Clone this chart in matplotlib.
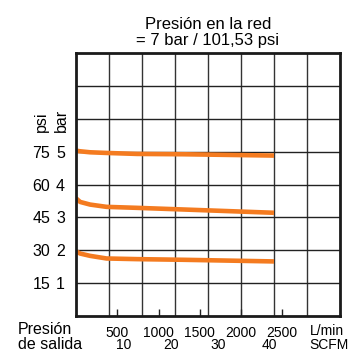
import numpy as np
import matplotlib
matplotlib.use("Agg")
import matplotlib.pyplot as plt
import matplotlib.transforms as mtransforms

plt.rcParams['font.family'] = ['Liberation Sans', 'DejaVu Sans']

# caudal (L/min) y presion de salida (bar)
flow = [0, 50, 170, 370, 740, 1300, 2400]
curve_5 = [5.03, 5.01, 4.98, 4.96, 4.93, 4.92, 4.88]
curve_3 = [3.58, 3.47, 3.39, 3.32, 3.29, 3.24, 3.14]
curve_2 = [1.97, 1.90, 1.83, 1.75, 1.73, 1.71, 1.66]

bar_ticks = [1, 2, 3, 4, 5]
psi_labels = ['15', '30', '45', '60', '75']
lmin_ticks = [500, 1000, 1500, 2000, 2500]
scfm_labels = ['10', '20', '30', '40']
scfm_pos = [580, 1150, 1720, 2340]   # donde van los textos SCFM (en L/min)

orange = '#F47B20'

fig = plt.figure(figsize=(3.58, 3.51), dpi=100)
ax = fig.add_axes([0.2123, 0.0997, 0.7374, 0.7493])

ax.set_xlim(0, 3200)
ax.set_ylim(0, 8)

# rejilla
for gx in np.linspace(0, 3200, 9)[1:-1]:
    ax.axvline(gx, color='#333333', lw=1.0, zorder=1)
for gy in range(1, 8):
    ax.axhline(gy, color='#222222', lw=1.0, zorder=1)

for c in [curve_5, curve_3, curve_2]:
    ax.plot(flow, c, color=orange, lw=3.3, solid_capstyle='butt', zorder=3)

for s in ax.spines.values():
    s.set_linewidth(2.0)
    s.set_color('#1a1a1a')
    s.set_zorder(5)

ax.set_xticks(lmin_ticks)
ax.set_xticklabels([str(v) for v in lmin_ticks], fontsize=10)
ax.tick_params(axis='x', direction='in', length=5, width=1, pad=7, color='#222222')
ax.set_yticks(bar_ticks)
ax.set_yticklabels([str(v) for v in bar_ticks], fontsize=11.5)
ax.tick_params(axis='y', length=0, pad=8)

ty = mtransforms.blended_transform_factory(ax.transAxes, ax.transData)
for b, p in zip(bar_ticks, psi_labels):
    ax.text(-0.098, b, p, transform=ty, ha='right', va='center_baseline', fontsize=11.5)
ax.text(-0.132, 5.6, 'psi', transform=ty, rotation=90, ha='center', va='bottom', fontsize=11.5)
ax.text(-0.055, 5.6, 'bar', transform=ty, rotation=90, ha='center', va='bottom', fontsize=11.5)

tx = mtransforms.blended_transform_factory(ax.transData, ax.transAxes)
for p, lab in zip(scfm_pos, scfm_labels):
    ax.text(p, -0.127, lab, transform=tx, ha='center', va='baseline', fontsize=10)
ax.text(2830, -0.072, 'L/min', transform=tx, ha='left', va='baseline', fontsize=10)
ax.text(2830, -0.127, 'SCFM', transform=tx, ha='left', va='baseline', fontsize=10)

ax.text(-0.22, -0.068, 'Presión', transform=ax.transAxes, ha='left', va='baseline', fontsize=11.5)
ax.text(-0.22, -0.127, 'de salida', transform=ax.transAxes, ha='left', va='baseline', fontsize=11.5)

ax.set_title('Presión en la red\n= 7 bar / 101,53 psi', fontsize=12, pad=6, linespacing=1.05)

fig.savefig('out.png', dpi=100)
